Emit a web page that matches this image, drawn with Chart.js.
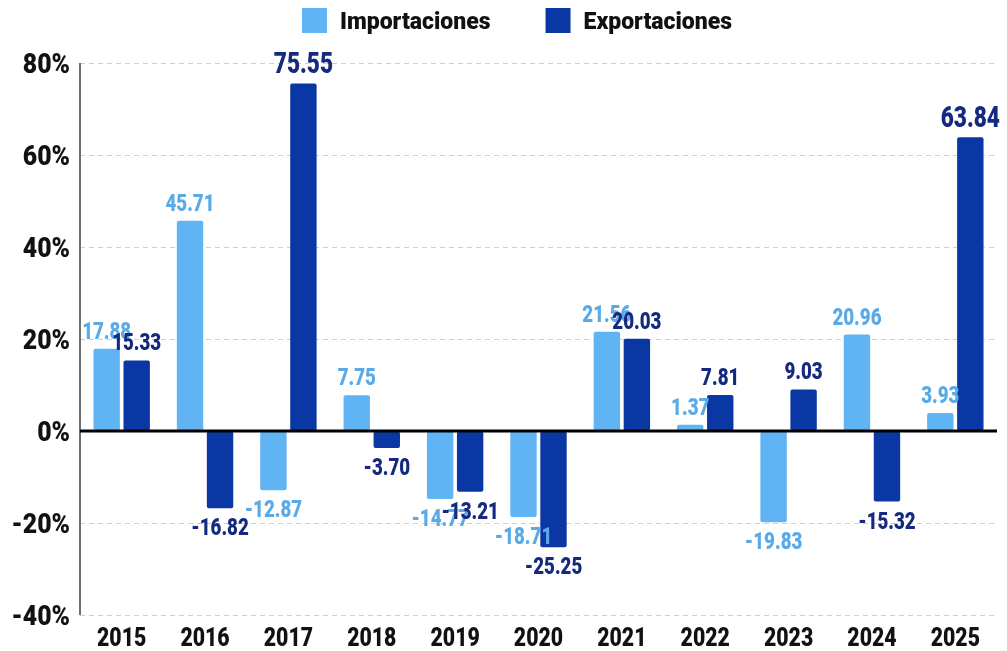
<!DOCTYPE html>
<html>
<head>
<meta charset="utf-8">
<script src="https://cdn.jsdelivr.net/npm/chart.js@4.4.0/dist/chart.umd.min.js"></script>
<style>
  html, body { margin: 0; padding: 0; background: #fff; }
  #wrap { width: 1007px; height: 651px; }
</style>
</head>
<body>
<div id="wrap"><canvas id="chart"></canvas></div>
<script>
const FONT = "Roboto, 'DejaVu Sans Condensed', sans-serif";

// datos
const years = ["2015","2016","2017","2018","2019","2020","2021","2022","2023","2024","2025"];
const importaciones = [17.88, 45.71, -12.87, 7.75, -14.77, -18.71, 21.56, 1.37, -19.83, 20.96, 3.93];
const exportaciones = [15.33, -16.82, 75.55, -3.70, -13.21, -25.25, 20.03, 7.81, 9.03, -15.32, 63.84];
const yTicks = [-40, -20, 0, 20, 40, 60, 80];

const LIGHT = "#61b4f4", DARK = "#0b37a4";
const LIGHT_TXT = "#5aaae8", DARK_TXT = "#15297f";

// texto estrecho: escala horizontal
function narrowText(ctx, txt, x, y, size, color, align, sq){
  ctx.save();
  ctx.font = "900 " + size + "px " + FONT;
  ctx.fillStyle = color;
  ctx.textBaseline = "alphabetic";
  const w = ctx.measureText(txt).width * sq;
  let left = x;
  if (align === "center") left = x - w / 2;
  else if (align === "right") left = x - w;
  ctx.translate(left, y);
  ctx.scale(sq, 1);
  ctx.textAlign = "left";
  ctx.fillText(txt, 0, 0);
  ctx.restore();
  return w;
}

// ------------------ PLUGIN ------------------
const extras = {
  id: "extras",
  beforeDatasetsDraw(chart){
    const {ctx, chartArea:a} = chart;
    ctx.save();
    ctx.strokeStyle = "#6f6f6f";
    ctx.lineWidth = 2;
    ctx.beginPath();
    ctx.moveTo(a.left, a.top);
    ctx.lineTo(a.left, a.bottom);
    ctx.stroke();
    ctx.restore();
  },
  afterDatasetsDraw(chart){
    const {ctx, chartArea:a, scales} = chart;
    const y0 = scales.y.getPixelForValue(0);
    ctx.save();
    ctx.strokeStyle = "#000";
    ctx.lineWidth = 3;
    ctx.beginPath();
    ctx.moveTo(a.left, y0);
    ctx.lineTo(a.right, y0);
    ctx.stroke();
    ctx.restore();

    // etiquetas de valores
    chart.data.datasets.forEach((ds, di) => {
      const meta = chart.getDatasetMeta(di);
      const col = di === 0 ? LIGHT_TXT : DARK_TXT;
      meta.data.forEach((bar, i) => {
        const v = ds.data[i];
        const size = Math.abs(v) > 60 ? 29 : 24;
        const cap = size * 0.711;
        if (v >= 0) narrowText(ctx, v.toFixed(2), bar.x, bar.y - 10, size, col, "center", 0.78);
        else narrowText(ctx, v.toFixed(2), bar.x, bar.y + 10 + cap, size, col, "center", 0.78);
      });
    });

    // ticks eje Y
    scales.y.ticks.forEach(t => {
      const y = scales.y.getPixelForValue(t.value);
      narrowText(ctx, t.value + "%", a.left - 10, y + 27 * 0.711 / 2, 27, "#111", "right", 0.92);
    });
    // ticks eje X
    years.forEach((lab, i) => {
      const x = scales.x.getPixelForValue(i);
      narrowText(ctx, lab, x, 646, 25, "#111", "center", 0.85);
    });

    // leyenda
    const items = chart.data.datasets.map(d => ({ label: d.label, color: d.backgroundColor }));
    const sq = 1;
    ctx.save();
    ctx.font = "900 23px " + FONT;
    const widths = items.map(it => ctx.measureText(it.label).width * sq);
    ctx.restore();
    const box = 25, gapBox = 13, gapItem = 55;
    let total = 0;
    widths.forEach((w, k) => { total += box + gapBox + w + (k ? gapItem : 0); });
    let x = 517 - total / 2;
    items.forEach((it, k) => {
      ctx.fillStyle = it.color;
      ctx.fillRect(x, 8, box, box);
      x += box + gapBox;
      narrowText(ctx, it.label, x, 29, 23, "#111", "left", sq);
      x += widths[k] + gapItem;
    });
  }
};

const ctx = document.getElementById("chart").getContext("2d");
new Chart(ctx, {
  type: "bar",
  data: {
    labels: years,
    datasets: [
      { label: "Importaciones", data: importaciones, backgroundColor: LIGHT, borderRadius: 2, borderSkipped: false,
        categoryPercentage: 0.72, barPercentage: 0.88 },
      { label: "Exportaciones", data: exportaciones, backgroundColor: DARK, borderRadius: 2, borderSkipped: false,
        categoryPercentage: 0.72, barPercentage: 0.88 }
    ]
  },
  options: {
    responsive: true,
    maintainAspectRatio: false,
    animation: false,
    layout: { padding: { top: 63, right: 10, left: 0, bottom: 0 } },
    plugins: {
      tooltip: { enabled: false },
      legend: { display: false }
    },
    scales: {
      x: {
        grid: { display: false },
        border: { display: false },
        ticks: { display: false },
        afterFit(s){ s.height = 36; }
      },
      y: {
        min: -40, max: 80,
        afterBuildTicks(s){ s.ticks = yTicks.map(v => ({ value: v })); },
        grid: { color: "#cfcfcf", lineWidth: 1, drawTicks: false },
        border: { display: false, dash: [5, 4] },
        ticks: { display: false },
        afterFit(s){ s.width = 80; }
      }
    }
  },
  plugins: [extras]
});
</script>
</body>
</html>
